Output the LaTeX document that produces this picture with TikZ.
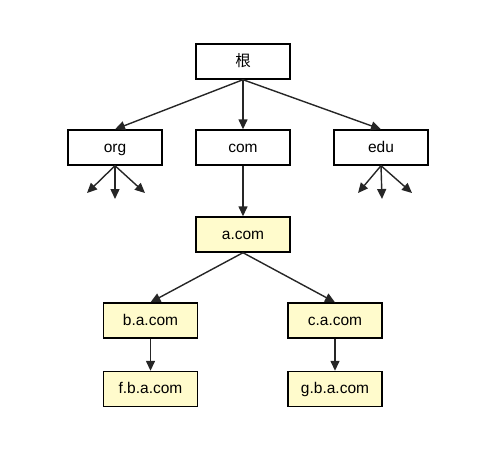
\documentclass[tikz,border=0pt]{standalone}
\usepackage{fontspec}
\setmainfont{Liberation Sans}
\newfontfamily\cjk{Noto Sans CJK SC}
\usepackage{tikz}
\usetikzlibrary{arrows.meta,positioning}
\definecolor{dnsyellow}{RGB}{255,251,204}
\tikzset{
  box/.style={draw,line width=1.4pt,minimum width=94pt,minimum height=35pt,
              inner sep=0pt,text height=10pt,text depth=1pt,
              font=\fontsize{15.5}{18}\selectfont},
  wbox/.style={box,fill=white},
  ybox/.style={box,fill=dnsyellow},
  arr/.style={-{Triangle[length=10pt,width=9pt]},line width=1.4pt,draw=black!85},
}
\begin{document}
\begin{tikzpicture}[x=1pt,y=-1pt]
\useasboundingbox (0,0) rectangle (478,461);

%% ---------- top levels ----------
\node[wbox] (root) at (243,61.5) {\cjk 根};
\node[wbox] (org) at (115,147.5) {org};
\node[wbox] (com) at (243,147.5) {com};
\node[wbox] (edu) at (381,147.5) {edu};

%% ---------- a.com subtree ----------
\node[ybox] (acom) at (243,234.5) {a.com};
\node[ybox] (bacom) at (150.5,320.5) {b.a.com};
\node[ybox] (cacom) at (335,320.5) {c.a.com};
\node[ybox] (fbacom) at (150.5,389) {f.b.a.com};
\node[ybox] (gbacom) at (335,389) {g.b.a.com};

%% stub ends under org / edu
\coordinate (orgl) at (87,193);
\coordinate (orgm) at (115,199);
\coordinate (orgr) at (145,193);
\coordinate (edul) at (358,193);
\coordinate (edum) at (382,199);
\coordinate (edur) at (412,193);

%% arrows
\draw[arr] (root.south) -- (org.north);
\draw[arr] (root.south) -- (com.north);
\draw[arr] (root.south) -- (edu.north);
\draw[arr] (com) -- (acom);
\draw[arr] (acom.south) -- (bacom.north);
\draw[arr] (acom.south) -- (cacom.north);
\draw[arr] (bacom) -- (fbacom);
\draw[arr] (cacom) -- (gbacom);

\draw[arr] (org.south) -- (orgl);
\draw[arr] (org.south) -- (orgm);
\draw[arr] (org.south) -- (orgr);
\draw[arr] (edu.south) -- (edul);
\draw[arr] (edu.south) -- (edum);
\draw[arr] (edu.south) -- (edur);
\end{tikzpicture}
\end{document}
